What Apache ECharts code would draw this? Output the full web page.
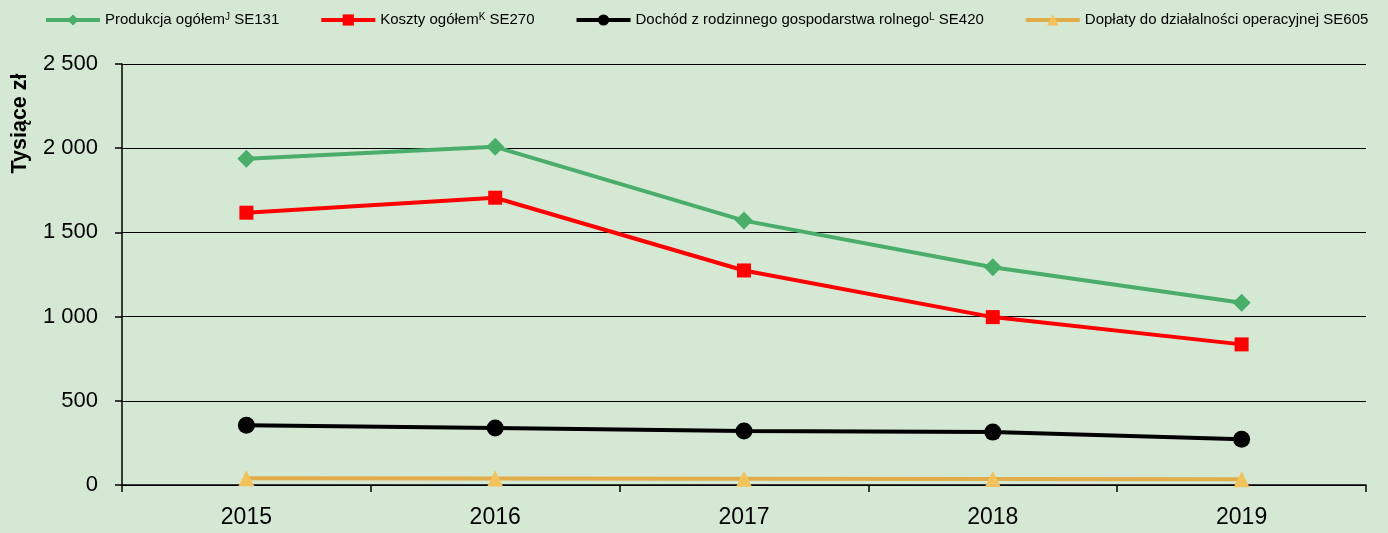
<!DOCTYPE html>
<html><head><meta charset="utf-8">
<script src="https://cdn.jsdelivr.net/npm/echarts@6/dist/echarts.min.js"></script>
<style>html,body{margin:0;padding:0;background:#d5e8d4}#c{width:1388px;height:533px}</style>
</head><body><div id="c"></div>
<script>
const categories = ['2015','2016','2017','2018','2019'];
const produkcja = [1937, 2008, 1570, 1293, 1082];
const koszty = [1617, 1706, 1274, 997, 835];
const dochod = [355, 338, 320, 314, 272];
const doplaty = [40, 39, 37, 35, 34];
const yTicks = [0, 500, 1000, 1500, 2000, 2500];
const yTitle = 'Tysiące zł';
const legendNames = ['Produkcja ogółemJ SE131','Koszty ogółemK SE270','Dochód z rodzinnego gospodarstwa rolnegoL SE420','Dopłaty do działalności operacyjnej SE605'];
const legendRich = ['Produkcja ogółem{s|J} SE131','Koszty ogółem{s|K} SE270','Dochód z rodzinnego gospodarstwa rolnego{s|L} SE420','Dopłaty do działalności operacyjnej SE605'];
const legendFmt = {};
legendNames.forEach((n,i)=>{ legendFmt[n] = legendRich[i]; });

const font = "'Liberation Sans',Arial,sans-serif";
const chart = echarts.init(document.getElementById('c'));
function fmt(v){ return String(v).replace(/\B(?=(\d{3})+(?!\d))/g,' '); }
chart.setOption({
  backgroundColor:'#d5e8d4',
  animation:false,
  textStyle:{fontFamily:font},
  legend:{
    top:7, left:39, width:1370, itemWidth:54, itemHeight:14, itemGap:40,
    lineStyle:{width:4},
    textStyle:{fontFamily:font,fontSize:15,color:'#000',
      rich:{s:{fontSize:10,fontFamily:font,color:'#000',padding:[0,0,6,0]}}},
    formatter:n=>legendFmt[n]
  },
  grid:{left:122,right:22,top:64,bottom:48},
  xAxis:{type:'category',data:categories,boundaryGap:true,
    axisLine:{lineStyle:{color:'#000',width:1.5}},
    axisTick:{show:true,length:7,lineStyle:{color:'#000',width:1.5}},
    axisLabel:{color:'#000',fontSize:23,fontFamily:font,margin:21}},
  yAxis:{type:'value',min:0,max:2500,interval:500,
    axisLine:{show:true,lineStyle:{color:'#000',width:1.5}},
    axisTick:{show:true,length:7,lineStyle:{color:'#000',width:1.5}},
    splitLine:{lineStyle:{color:'#000',width:1}},
    axisLabel:{color:'#000',fontSize:22,fontFamily:font,margin:24,formatter:v=>yTicks.includes(v)?fmt(v):''}},
  graphic:[{type:'text',x:20.5,y:123.5,rotation:Math.PI/2,
    style:{text:yTitle,fontSize:21.5,fontWeight:'bold',fontFamily:font,fill:'#000',align:'center',verticalAlign:'middle'}}],
  series:[
    {name:legendNames[0],type:'line',data:produkcja,symbol:'diamond',symbolSize:18,
      lineStyle:{color:'#4aad6a',width:4},itemStyle:{color:'#4aad6a'}},
    {name:legendNames[1],type:'line',data:koszty,symbol:'rect',symbolSize:14,
      lineStyle:{color:'#ff0000',width:4},itemStyle:{color:'#ff0000'}},
    {name:legendNames[2],type:'line',data:dochod,symbol:'circle',symbolSize:17,
      lineStyle:{color:'#000',width:4},itemStyle:{color:'#000'}},
    {name:legendNames[3],type:'line',data:doplaty,symbol:'triangle',symbolSize:16,
      lineStyle:{color:'#e0ad4a',width:4},itemStyle:{color:'#f2c25c'}}
  ]
});
</script></body></html>
